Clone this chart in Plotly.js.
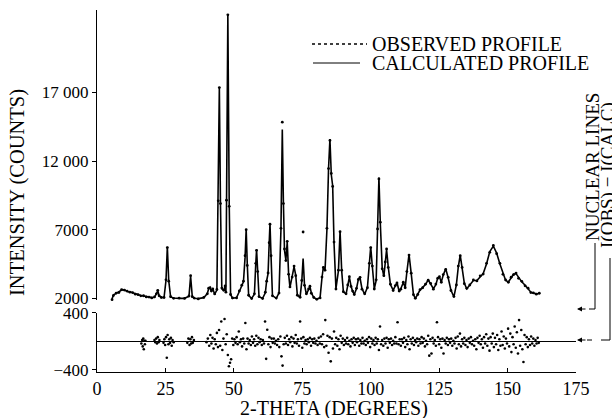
<!DOCTYPE html>
<html>
<head>
<meta charset="utf-8">
<script src="https://cdn.plot.ly/plotly-3.0.1.min.js"></script>
<style>html,body{margin:0;padding:0;background:#fff;}#chart{width:612px;height:418px;}</style>
</head>
<body>
<div id="chart"></div>
<script>
// 2-theta grid (degrees)
const twoTheta = [
  5.5, 6.0, 7.0, 8.0, 9.0, 10.0, 11.0, 12.0, 13.0, 14.0,
  15.0, 16.0, 17.0, 18.0, 19.0, 20.0, 21.0, 21.7, 22.2, 22.7,
  23.5, 24.5, 25.2, 25.7, 26.2, 26.9, 28.0, 30.0, 32.0, 33.6,
  34.2, 34.8, 35.5, 37.0, 39.0, 40.3, 40.8, 41.3, 41.8, 42.3,
  43.0, 43.8, 44.3, 44.7, 45.1, 45.6, 46.3, 46.8, 47.1, 47.3,
  47.8, 48.3, 48.8, 49.5, 51.0, 52.0, 52.9, 53.5, 54.1, 54.5,
  54.9, 55.4, 56.5, 57.5, 58.0, 58.3, 58.7, 59.2, 60.5, 61.5,
  62.0, 62.5, 62.9, 63.2, 63.6, 64.1, 65.5, 66.5, 67.2, 67.7,
  68.1, 68.5, 69.0, 69.5, 70.0, 70.5, 71.3, 72.0, 72.6, 73.2,
  74.2, 74.8, 75.3, 75.8, 76.5, 77.3, 77.8, 78.3, 79.2, 80.3,
  81.5, 82.2, 82.7, 83.3, 84.0, 84.6, 85.1, 85.6, 86.1, 86.6,
  87.3, 88.2, 88.8, 89.4, 90.0, 91.0, 91.6, 92.2, 92.8, 93.4,
  94.0, 94.8, 95.5, 96.1, 96.8, 97.8, 98.8, 99.5, 100.0, 100.6,
  101.3, 102.0, 102.5, 103.0, 103.5, 104.2, 104.8, 105.3, 105.8, 106.4,
  107.2, 108.2, 109.0, 109.6, 110.4, 111.0, 111.9, 112.6, 113.2, 114.0,
  114.8, 115.6, 116.3, 117.2, 118.0, 119.0, 120.0, 121.0, 121.9, 122.9,
  123.8, 124.5, 125.1, 125.8, 126.5, 127.4, 128.3, 129.3, 130.4, 131.3,
  132.0, 132.7, 133.4, 134.2, 135.1, 136.2, 137.5, 138.8, 140.0, 141.1,
  142.3, 143.5, 144.8, 146.0, 147.2, 148.3, 149.3, 150.3, 151.3, 152.2,
  153.1, 154.0, 155.2, 156.4, 157.5, 158.5, 159.4, 160.5, 161.6
];
// calculated profile (counts)
const calcCounts = [
  1950, 2250, 2350, 2450, 2600, 2620, 2500, 2480, 2400, 2330,
  2250, 2200, 2170, 2120, 2080, 2050, 2080, 2350, 2550, 2200,
  2050, 2080, 3300, 5750, 3300, 2100, 2020, 2000, 2000, 2150,
  3600, 2150, 2000, 1980, 2050, 2350, 2700, 2800, 2500, 2700,
  2300, 2600, 9000, 17400, 9000, 2700, 2600, 2850, 2500, 9000,
  22700, 9000, 2300, 2000, 2050, 2500, 3000, 3200, 5000, 7050,
  4500, 2200, 2000, 2300, 4500, 5550, 4000, 2100, 2000, 2400,
  3300, 3800, 6000, 7450, 5000, 2200, 2000, 2400, 7000, 14300,
  9000, 5500, 4800, 6100, 3800, 2800, 3600, 4300, 3700, 2200,
  2100, 3200, 4900, 3000, 2300, 2700, 2850, 2400, 2050, 1950,
  2050, 3500, 4300, 4000, 7000, 11500, 13600, 11000, 10200, 6000,
  2700, 4000, 6900, 4000, 2500, 2300, 3000, 3550, 2900, 2500,
  2300, 2700, 3400, 3500, 2700, 2300, 2800, 4500, 5750, 4300,
  2700, 3300, 7000, 10800, 7500, 4200, 3600, 4700, 5550, 4300,
  3000, 2600, 2900, 3150, 2500, 2700, 3150, 2800, 3900, 5200,
  3800, 2300, 1980, 2300, 2600, 2800, 3000, 3350, 3050, 2700,
  3000, 3500, 3550, 3200, 3700, 4150, 3500, 2600, 2100, 3000,
  4300, 5150, 4200, 3100, 2700, 3000, 3300, 3300, 3600, 3800,
  4500, 5400, 5800, 5300, 4500, 3800, 3300, 3200, 3500, 3750,
  3800, 3500, 3200, 2950, 2700, 2450, 2380, 2330, 2350
];
// observed profile (counts)
const obsCounts = [
  1900, 2200, 2380, 2420, 2640, 2600, 2530, 2450, 2420, 2300,
  2270, 2180, 2190, 2100, 2090, 2030, 2100, 2330, 2580, 2180,
  2070, 2060, 3350, 5700, 3250, 2120, 2000, 2020, 1990, 2170,
  3650, 2120, 2020, 1960, 2070, 2330, 2740, 2760, 2530, 2680,
  2320, 2650, 9100, 17350, 8900, 2750, 2580, 2900, 2450, 9150,
  22650, 8700, 2280, 2030, 2030, 2540, 2960, 3250, 5100, 7000,
  4400, 2230, 1980, 2330, 4550, 5500, 3950, 2130, 1980, 2450,
  3250, 3850, 6050, 7400, 5100, 2180, 2020, 2380, 7100, 14830,
  8900, 5600, 4750, 6150, 3750, 2830, 3550, 4350, 3650, 2230,
  2080, 3300, 6830, 2950, 2330, 2680, 2880, 2370, 2070, 1930,
  2030, 3550, 4250, 4050, 7100, 11450, 13500, 11100, 10150, 6100,
  2680, 4050, 6850, 4050, 2480, 2330, 2970, 3580, 2870, 2530,
  2280, 2730, 3380, 3530, 2670, 2330, 2770, 4550, 5700, 4350,
  2680, 3350, 7050, 10700, 7550, 4150, 3650, 4650, 5600, 4250,
  3030, 2570, 2930, 3120, 2530, 2670, 3180, 2770, 3950, 5150,
  3830, 2270, 2000, 2280, 2630, 2770, 3030, 3320, 3080, 2670,
  3040, 3470, 3580, 3170, 3730, 4100, 3530, 2570, 2130, 2970,
  4350, 5100, 4250, 3070, 2730, 2970, 3340, 3270, 3640, 3770,
  4550, 5350, 5850, 5250, 4550, 3750, 3340, 3170, 3540, 3720,
  3840, 3460, 3240, 2910, 2740, 2420, 2400, 2300, 2370
];
// nuclear reflection positions (degrees)
const nuclearLines = [
  16.9, 21.2, 22.6, 24.0, 25.7, 27.3, 31.5, 34.3, 34.8, 41.4,
  41.9, 42.8, 44.3, 44.7, 46.2, 47.8, 48.6, 49.8, 50.8, 51.6,
  52.5, 53.5, 54.2, 54.7, 57.7, 58.4, 60.2, 62.0, 63.2, 66.2,
  67.7, 68.1, 68.6, 69.3, 69.9, 70.5, 71.1, 71.7, 72.3, 74.2,
  76.6, 78.5, 81.5, 82.4, 83.3, 84.2, 85.1, 86.1, 87.0, 87.9,
  88.8, 89.7, 90.6, 91.5, 92.4, 93.3, 94.3, 95.2, 96.1, 97.0,
  97.9, 98.8, 99.7, 100.7, 101.6, 102.5, 103.4, 104.3, 105.2, 106.2,
  107.1, 108.0, 108.9, 109.8, 110.7, 111.6, 112.5, 113.4, 115.6, 118.0,
  120.1, 121.0, 123.5, 124.6, 126.5, 127.6, 129.0, 130.4, 132.6, 135.1,
  137.0, 140.0, 140.9, 141.8, 142.7, 143.6, 144.5, 145.4, 146.3, 147.2,
  148.0, 149.7, 152.1, 153.9, 156.0
];
const nuclearLevel = 430;
// difference I(obs) - I(calc)
const diffTheta = [
  16.2, 16.5, 16.7, 16.9, 17.1, 17.3, 17.5, 17.7, 21.0, 21.3,
  21.6, 21.9, 22.2, 22.5, 22.8, 24.3, 24.6, 24.9, 25.2, 25.5,
  25.8, 26.1, 26.4, 26.7, 27.0, 27.3, 27.6, 28.0, 33.0, 33.4,
  33.8, 34.1, 34.4, 34.7, 35.0, 35.4, 40.0, 40.5, 41.0, 41.4,
  41.8, 42.2, 42.6, 43.0, 43.4, 43.8, 44.2, 44.6, 45.0, 45.4,
  45.8, 46.2, 46.6, 47.0, 47.4, 47.8, 48.2, 48.6, 49.0, 49.4,
  49.8, 50.2, 50.6, 51.0, 51.4, 51.8, 52.2, 52.6, 53.0, 53.4,
  53.8, 54.2, 54.6, 55.0, 55.4, 55.8, 56.2, 56.6, 57.0, 57.4,
  57.8, 58.2, 58.6, 59.0, 59.4, 59.8, 60.2, 60.6, 61.0, 61.4,
  61.8, 62.2, 62.6, 63.0, 63.4, 63.8, 64.2, 64.6, 65.0, 65.4,
  65.8, 66.2, 66.6, 67.0, 67.4, 67.8, 68.2, 68.6, 69.0, 69.4,
  69.8, 70.2, 70.6, 71.0, 71.4, 71.8, 72.2, 72.6, 73.0, 73.4,
  73.8, 74.2, 74.6, 75.0, 75.4, 75.8, 76.2, 76.6, 77.0, 77.4,
  77.8, 78.2, 78.6, 79.0, 79.4, 79.8, 80.2, 80.6, 81.0, 81.4,
  81.8, 82.2, 82.6, 83.0, 83.4, 83.8, 84.2, 84.6, 85.0, 85.4,
  85.8, 86.2, 86.6, 87.0, 87.4, 87.8, 88.2, 88.6, 89.0, 89.4,
  89.8, 90.2, 90.6, 91.0, 91.4, 91.8, 92.2, 92.6, 93.0, 93.4,
  93.8, 94.2, 94.6, 95.0, 95.4, 95.8, 96.2, 96.6, 97.0, 97.4,
  97.8, 98.2, 98.6, 99.0, 99.4, 99.8, 100.2, 100.6, 101.0, 101.4,
  101.8, 102.2, 102.6, 103.0, 103.4, 103.8, 104.2, 104.6, 105.0, 105.4,
  105.8, 106.2, 106.6, 107.0, 107.4, 107.8, 108.2, 108.6, 109.0, 109.4,
  109.8, 110.2, 110.6, 111.0, 111.4, 111.8, 112.2, 112.6, 113.0, 113.4,
  113.8, 114.2, 114.6, 115.0, 115.4, 115.8, 116.2, 116.6, 117.0, 117.4,
  117.8, 118.2, 118.6, 119.0, 119.4, 119.8, 120.2, 120.6, 121.0, 121.4,
  121.8, 122.2, 122.6, 123.0, 123.4, 123.8, 124.2, 124.6, 125.0, 125.4,
  125.8, 126.2, 126.6, 127.0, 127.4, 127.8, 128.2, 128.6, 129.0, 129.4,
  129.8, 130.2, 130.6, 131.0, 131.4, 131.8, 132.2, 132.6, 133.0, 133.4,
  133.8, 134.2, 134.6, 135.0, 135.4, 135.8, 136.2, 136.6, 137.0, 137.4,
  137.8, 138.2, 138.6, 139.0, 139.4, 139.8, 140.2, 140.6, 141.0, 141.4,
  141.8, 142.2, 142.6, 143.0, 143.4, 143.8, 144.2, 144.6, 145.0, 145.4,
  145.8, 146.2, 146.6, 147.0, 147.4, 147.8, 148.2, 148.6, 149.0, 149.4,
  149.8, 150.2, 150.6, 151.0, 151.4, 151.8, 152.2, 152.6, 153.0, 153.4,
  153.8, 154.2, 154.6, 155.0, 155.4, 155.8, 156.2, 156.6, 157.0, 157.4,
  157.8, 158.2, 158.6, 159.0, 159.4, 159.8, 160.2, 160.6, 161.0, 161.4
];
const diffCounts = [
  -30, 20, -70, 40, -110, 10, -40, 10, 20, -10,
  40, -30, 60, -10, 20, -20, 30, -50, 60, -230,
  90, -40, 30, -20, 50, -60, 20, -10, -20, 40,
  -50, 30, -30, 60, -20, 20, -10, 40, -60, 90,
  -30, 50, -100, 30, -40, 120, -80, 160, -60, 280,
  -120, 40, 315, -40, 100, -190, -350, -300, -250, 40,
  -50, 30, -20, 60, -40, 140, -10, 30, -70, 40,
  -30, 260, -110, 40, -30, 20, -50, 70, -20, 30,
  -60, 80, -40, 50, -10, 30, -50, 20, -30, 280,
  -245, 165, -40, 60, -80, 40, -20, 40, -30, 10,
  -50, 30, -80, 70, -210, -340, -40, 50, -30, 80,
  -50, 30, -10, 60, -70, 40, -20, 90, -30, 30,
  -60, 280, 40, -90, 60, -30, 20, -40, 30, -10,
  50, -60, 30, -20, 40, -30, 10, -50, 50, -30,
  70, -40, 100, -80, 300, -60, 80, -160, 60, -280,
  40, -100, 140, -40, 50, -60, 30, -110, 80, -20,
  40, -50, 20, -30, 50, -40, 10, -70, 30, -20,
  50, -50, 30, -10, 40, -60, 20, -30, 50, -30,
  10, -50, 30, -20, 60, -80, 40, -30, 20, -50,
  50, -30, 30, -120, 210, -40, 20, -60, 40, -30,
  50, -90, 30, -20, 40, -50, 10, -30, 60, -30,
  270, -40, 30, -60, 30, -20, 50, -80, 20, -40,
  70, -110, 30, -30, 50, -50, 20, -10, 40, -60,
  30, -30, 60, -20, 40, -70, 10, -40, 80, -200,
  30, -170, 50, -30, 20, -60, 270, 60, -40, 30,
  -90, 40, -170, 20, -30, 50, -50, 30, -20, 40,
  -60, 10, -30, 50, -100, 70, -40, 110, -70, 30,
  -30, 50, -50, 20, -80, 40, -20, 60, -40, 10,
  -60, 30, -110, 50, -20, 80, -40, 30, -90, 60,
  -30, 100, -60, 40, -130, 60, -30, 110, -80, 50,
  -40, 90, -120, 30, -60, 140, -50, 70, -100, 40,
  -30, 180, -70, 110, -150, 60, -40, 210, -90, 130,
  -170, 300, -60, 160, -110, -290, 90, -40, 60, -80,
  30, -50, 70, -30, 40, -60, 20, -30, 50, -20
];
// axis tick labels
const xTicks = [0, 25, 50, 75, 100, 125, 150, 175];
const yTicks = [2000, 7000, 12000, 17000];
const yTickText = ['2000', '7000', '12 000', '17 000'];
const y2Ticks = [-400, 400];
const y2TickText = ['\u2212400', '400'];

const FONT = '"Liberation Serif", "Times New Roman", serif';
// pixel -> paper helpers (plot area: x 97..576, y 10..372)
const PX = p => (p - 97) / 479;
const PY = p => (372 - p) / 362;

const traces = [
  {x: twoTheta, y: calcCounts, xaxis: 'x', yaxis: 'y', mode: 'lines',
   line: {color: 'black', width: 1.6}, hoverinfo: 'skip'},
  {x: twoTheta, y: obsCounts, xaxis: 'x', yaxis: 'y', mode: 'markers',
   marker: {color: 'black', size: 2.8}, cliponaxis: false, hoverinfo: 'skip'},
  {x: nuclearLines, y: nuclearLines.map(() => nuclearLevel), xaxis: 'x', yaxis: 'y2', mode: 'markers',
   marker: {color: 'black', size: 2.4, symbol: 'square'}, cliponaxis: false, hoverinfo: 'skip'},
  {x: diffTheta, y: diffCounts, xaxis: 'x', yaxis: 'y2', mode: 'markers',
   marker: {color: 'black', size: 2.6}, cliponaxis: false, hoverinfo: 'skip'}
];

const layout = {
  width: 612, height: 418,
  margin: {l: 97, r: 36, t: 10, b: 46, pad: 0},
  paper_bgcolor: 'white', plot_bgcolor: 'white',
  font: {family: FONT, size: 18, color: 'black'},
  showlegend: false,
  xaxis: {range: [0, 175], tickvals: xTicks, ticktext: xTicks.map(String),
          ticks: 'inside', ticklen: 4, tickcolor: 'black', showline: true, linecolor: 'black', linewidth: 1,
          anchor: 'y2', showgrid: false, zeroline: false, tickfont: {family: FONT, size: 18}},
  yaxis: {domain: [0.1978, 1], range: [1850, 23000], tickvals: yTicks, ticktext: yTickText,
          ticks: 'outside', ticklen: 4, tickcolor: 'black', showline: true, linecolor: 'black', linewidth: 1,
          anchor: 'x', showgrid: false, zeroline: false, tickfont: {family: FONT, size: 17}},
  yaxis2: {domain: [0, 0.163], range: [-430, 400], tickvals: y2Ticks, ticktext: y2TickText,
           ticks: 'outside', ticklen: 4, tickcolor: 'black', showline: true, linecolor: 'black', linewidth: 1,
           anchor: 'x', showgrid: false, zeroline: true, zerolinecolor: 'black', zerolinewidth: 1,
           tickfont: {family: FONT, size: 17}},
  shapes: [
    // legend samples
    {type: 'line', xref: 'paper', yref: 'paper', x0: PX(312), x1: PX(367), y0: PY(44), y1: PY(44),
     line: {color: 'black', width: 1.5, dash: 'dot'}},
    {type: 'line', xref: 'paper', yref: 'paper', x0: PX(313), x1: PX(360), y0: PY(63), y1: PY(63),
     line: {color: 'black', width: 1}},
    // connectors on the right
    {type: 'line', xref: 'paper', yref: 'paper', x0: PX(595), x1: PX(595), y0: PY(243), y1: PY(309),
     line: {color: 'black', width: 1}},
    {type: 'line', xref: 'paper', yref: 'paper', x0: PX(595), x1: PX(589), y0: PY(309), y1: PY(309),
     line: {color: 'black', width: 1}},
    {type: 'line', xref: 'paper', yref: 'paper', x0: PX(610), x1: PX(610), y0: PY(258), y1: PY(340),
     line: {color: 'black', width: 1}},
    {type: 'line', xref: 'paper', yref: 'paper', x0: PX(610), x1: PX(587), y0: PY(340), y1: PY(340),
     line: {color: 'black', width: 1, dash: 'dash'}}
  ],
  annotations: [
    {xref: 'paper', yref: 'paper', x: PX(370), y: PY(44), xanchor: 'left', yanchor: 'middle',
     text: 'OBSERVED PROFILE', showarrow: false, font: {family: FONT, size: 20}},
    {xref: 'paper', yref: 'paper', x: PX(370), y: PY(63), xanchor: 'left', yanchor: 'middle',
     text: 'CALCULATED PROFILE', showarrow: false, font: {family: FONT, size: 20}},
    {xref: 'paper', yref: 'paper', x: PX(17), y: PY(193), xanchor: 'center', yanchor: 'middle',
     text: 'INTENSITY (COUNTS)', textangle: -90, showarrow: false, font: {family: FONT, size: 20.5}},
    {xref: 'paper', yref: 'paper', x: PX(334), y: PY(408), xanchor: 'center', yanchor: 'middle',
     text: '2-THETA (DEGREES)', showarrow: false, font: {family: FONT, size: 20}},
    {xref: 'paper', yref: 'paper', x: PX(593), y: PY(167), xanchor: 'center', yanchor: 'middle',
     text: 'NUCLEAR LINES', textangle: -90, showarrow: false, font: {family: FONT, size: 19}},
    {xref: 'paper', yref: 'paper', x: PX(608), y: PY(175), xanchor: 'center', yanchor: 'middle',
     text: 'I(OBS) \u2212 I(CALC)', textangle: -90, showarrow: false, font: {family: FONT, size: 19}},
    {xref: 'paper', yref: 'paper', x: PX(577), y: PY(309), ax: 10, ay: 0, text: '',
     showarrow: true, arrowhead: 2, arrowsize: 1, arrowwidth: 1, arrowcolor: 'black'},
    {xref: 'paper', yref: 'paper', x: PX(577), y: PY(340), ax: 10, ay: 0, text: '',
     showarrow: true, arrowhead: 2, arrowsize: 1, arrowwidth: 1, arrowcolor: 'black'}
  ]
};

Plotly.newPlot('chart', traces, layout, {staticPlot: true, displayModeBar: false});
</script>
</body>
</html>
